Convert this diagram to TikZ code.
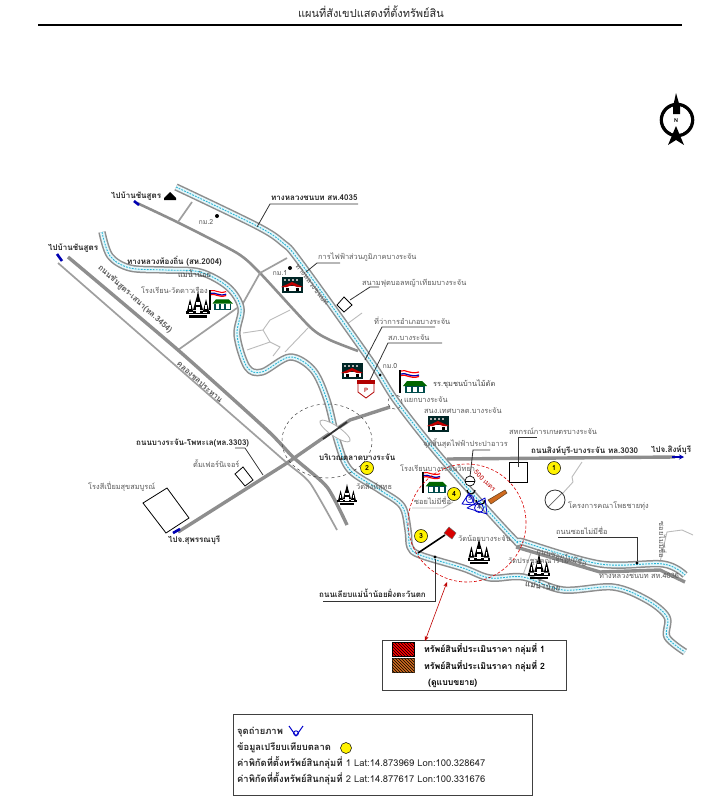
\documentclass[tikz,border=0pt]{standalone}
\usepackage{fontspec}
\setmainfont[Script=Thai]{Loma}
\usetikzlibrary{positioning, arrows.meta, patterns, shapes.geometric}

\definecolor{randgrau}{HTML}{8E8E8E}
\definecolor{wasser}{HTML}{E4F6FA}
\definecolor{wasserlinie}{HTML}{27B5D6}
\definecolor{textgrau}{HTML}{5A5A5A}
\definecolor{parzelleorange}{HTML}{CF6A1E}

\tikzset{
    roadthick/.style={draw=randgrau, line width=3.4pt},
    roadmid/.style={draw=randgrau, line width=2.6pt},
    roadthin/.style={draw=randgrau!85, line width=1.7pt},
    lane/.style={draw=randgrau!60, line width=0.9pt},
    leader/.style={draw=black!80, line width=0.8pt},
    plain/.style={text=textgrau, font=\fontsize{7.4}{8}\selectfont, inner sep=1pt},
    boldlbl/.style={text=black!85, font=\fontsize{8}{9}\selectfont\bfseries, inner sep=1pt},
    lot/.style={draw=black, line width=0.8pt, fill=white},
    marker/.style={circle, draw=black, fill=yellow, line width=0.5pt, minimum size=13pt, inner sep=0pt, font=\fontsize{7}{7}\selectfont\bfseries},
    dotmark/.style={circle, fill=black, inner sep=0pt, minimum size=4pt},
    direction/.style={draw=blue!70!black, line width=2.6pt},
    legendbox/.style={draw=black!75, line width=1pt, fill=white},
    legendlbl/.style={text=black, font=\fontsize{8.7}{9}\selectfont\bfseries, inner sep=1pt},
    legendlow/.style={text=black!85, font=\fontsize{9.4}{10}\selectfont\bfseries, inner sep=1pt},
    temple/.pic={
        \fill[black] (0,-14) -- (1.3,-8) -- (5,5) -- (-5,5) -- (-1.3,-8) -- cycle;
        \fill[black] (-8,-6) -- (-5,6) -- (-11,6) -- cycle;
        \fill[black] (8,-6) -- (11,6) -- (5,6) -- cycle;
        \fill[black] (-12,6) rectangle (12,9);
        \fill[black] (-9,10) rectangle (9,13);
        \fill[white] (-2,-3) rectangle (2,0);
        \fill[white] (-2,2) rectangle (2,7.5);
        \fill[white] (-9,6.8) rectangle (-5,8);
        \fill[white] (5,6.8) rectangle (9,8);
        \fill[white] (-8.8,0) rectangle (-7.2,4);
        \fill[white] (7.2,0) rectangle (8.8,4);
    },
    school/.pic={
        \draw[black, line width=1.1pt] (0,0) -- (0,23);
        \draw[red, line width=1.2pt] (1,1) .. controls (6,-1) and (10,5) .. (19,2);
        \draw[white, line width=1.2pt] (1,2.5) .. controls (6,0.5) and (10,6.5) .. (19,3.5);
        \draw[blue!70!black, line width=1.3pt] (1,4) .. controls (6,2) and (10,8) .. (19,5);
        \draw[red, line width=1.2pt] (1,5.5) .. controls (6,3.5) and (10,9.5) .. (19,6.5);
        \fill[green!40!black] (3,16) -- (7,11) -- (22,11) -- (27,16) -- cycle;
        \fill[teal!60!black] (5,16) rectangle (25,23);
        \fill[white] (7,17) rectangle (11,22);
        \fill[white] (13,17) rectangle (17,22);
        \fill[white] (19,17) rectangle (23,22);
    },
    office/.pic={
        \fill[teal!30!black] (0,0) rectangle (21,16);
        \foreach \i in {1,...,4} {
            \fill[white!70!black] ({\i*4-2},1.5) rectangle ({\i*4},3.5);
        }
        \fill[white] (2,9) rectangle (19,14);
        \fill[red!75!black] (-1,10) -- (10,5) -- (21,10) -- (15,10) -- (10,8) -- (5,10) -- cycle;
        \fill[black] (4,11) rectangle (7,14);
        \fill[black] (14,11) rectangle (17,14);
    },
    viewcone/.pic={
        \draw[blue!80!black, line width=1pt, line join=round] (-7,-5) -- (0,5) -- (7,-5);
        \draw[blue!80!black, line width=0.9pt] (0,2.2) circle (2.4pt);
    }
}

% Fluss oder Kanal: Rand, Wasser, gestrichelte Mittellinie
\newcommand{\wasserlauf}[2][7.4]{
    \draw[randgrau, line width=#1pt, line join=round] plot[smooth, tension=0.55] coordinates {#2};
    \draw[wasser, line width=#1pt-3pt, line join=round] plot[smooth, tension=0.55] coordinates {#2};
    \draw[wasserlinie, line width=0.9pt, dash pattern=on 1.8pt off 1.2pt] plot[smooth, tension=0.55] coordinates {#2};
}

\begin{document}
\begin{tikzpicture}[x=1pt, y=-1pt]
    \useasboundingbox (0,0) rectangle (710,800);
    \fill[white] (0,0) rectangle (710,800);

    % Titel
    \node[font=\fontsize{11}{12}\selectfont, text=black!85, inner sep=0pt] (titel) at (371,12) {แผนที่สังเขปแสดงที่ตั้งทรัพย์สิน};
    \draw[black, line width=1.8pt] (38,25) -- (682,25);

    % Nordpfeil
    \draw[black, line width=3.6pt] (677,120) circle (15.5pt);
    \draw[white, line width=0.8pt] (677,120) circle (13.5pt);
    \fill[black] (676,93) -- (680,107) -- (680,114) -- (673,114) -- (673,107) -- cycle;
    \fill[black] (676,126) -- (684,145) -- (676,140) -- (668,145) -- cycle;
    \node[font=\fontsize{5.5}{6}\selectfont\bfseries, inner sep=0pt] (nord) at (676,121) {N};

    % Straßen
    \draw[roadmid, line join=round] plot[smooth, tension=0.4] coordinates {(137,203) (177,222) (237,253) (260,273) (310,327) (330,340) (358,351)};
    \draw[roadthin] (192,202) -- (178,222);
    \draw[roadthin] (287,258) -- (260,273) -- (242,305);
    \draw[roadthin] (237,308) -- (178,350);
    \draw[roadthick, line join=round] plot[smooth, tension=0.4] coordinates {(68,257) (178,350) (267,430) (293,457) (327,487) (347,525)};
    \draw[roadthin] plot[smooth, tension=0.4] coordinates {(58,263) (247,428) (287,463) (310,483) (337,530)};
    \draw[lane] (243,333) -- (263,330) -- (270,320) -- (290,310);
    \draw[lane] (263,330) -- (270,342) -- (247,350);
    \draw[lane] (270,342) -- (280,347) -- (273,356);
    \draw[lane] (308,328) -- (285,352);
    \draw[lane] (362,313) -- (343,327);
    \draw[lane] (582,462) -- (572,477) -- (573,482) -- (563,493) -- (553,507);
    \draw[lane] (660,562) -- (667,532) -- (682,530) -- (693,535);
    \draw[lane] (532,550) -- (523,575);
    \draw[lane] (412,508) -- (443,508) -- (453,502);
    \draw[roadthick] (178,532) -- (287,463) -- (323,438) -- (350,420) -- (390,407);
    \draw[roadthick] (447,459) -- (675,457);
    \draw[roadthick] (516,547) -- (600,572) -- (660,570) -- (685,582);
    \draw[direction, -{Stealth[length=5pt, width=5pt]}, line width=1.6pt] (672,457) -- (684,457);
    \draw[direction] (180,529) -- (173,533);
    \draw[direction] (139,205) -- (134,201);
    \draw[direction] (62,261) -- (57,254);

    % Wasserläufe
    \wasserlauf{(102,232) (110,256) (130,268) (165,270) (200,272) (228,287) (241,308) (237,335) (247,367) (262,372) (290,357) (313,370) (327,400) (338,443) (350,470) (380,490) (402,506) (408,530) (410,547) (420,555) (463,568) (490,578) (523,577) (563,590) (613,587) (647,600) (667,617) (667,637) (685,652)}
    \wasserlauf{(176,187) (257,226) (283,243) (300,262) (370,360) (397,402) (443,460) (513,538) (523,542) (600,564) (663,564) (685,575)}

    % Markt mit Brücke
    \draw[black!75, line width=0.5pt, dashed] (327,441) ellipse (45pt and 37pt);
    \draw[randgrau!70, fill=white, line width=0.8pt, rotate around={-34:(335,431)}] (335,431) ellipse (18pt and 5pt);
    \draw[black!80, line width=1.8pt] (323,439) -- (347,422);
    \draw[black!70, dashed, line width=0.5pt] (395,402) circle (7pt);

    % Grundstücke
    \draw[lot] (337,305) -- (344,297) -- (352,305) -- (344,312) -- cycle;
    \draw[lot] (235,474) -- (243,467) -- (253,480) -- (245,486) -- cycle;
    \draw[lot] (143,503) -- (167,488) -- (189,518) -- (166,533) -- cycle;
    \draw[lot] (509,462) rectangle (527,482);
    \draw[black!80, line width=0.8pt, fill=white] (555,500) circle (10pt);
    \draw[black!60, line width=0.7pt] (548,507) -- (562,493);

    % Symbole
    \pic at (198,305) {temple};
    \pic[scale=0.85] at (210,290) {school};
    \pic at (282,277) {office};
    \pic at (342,363) {office};
    \pic at (400,370) {school};
    \pic at (428,416) {office};
    \pic[scale=0.9] at (423,472) {school};
    \pic[scale=0.8] at (347,495) {temple};
    \pic[scale=0.95] at (479,552) {temple};
    \pic[scale=0.95] at (539,567) {temple};
    \draw[red!70!black, fill=white, line width=0.8pt] (358,382) -- (374,382) -- (374,392) -- (366,398) -- (358,392) -- cycle;
    \fill[red!70!black] (357,380) rectangle (375,384);
    \node[text=red!70!black, font=\fontsize{6}{7}\selectfont\bfseries, inner sep=0pt] (parken) at (366,390) {P};
    \fill[black] (164,198) -- (170,192) -- (176,198) -- (176,200) -- (164,200) -- cycle;

    % Kilometer
    \node[dotmark] (kmzwei) at (217,216) {};
    \node[dotmark] (kmeins) at (290,268) {};
    \node[dotmark, minimum size=3pt] (kmnull) at (380,375) {};
    \node[dotmark, minimum size=3.4pt] (somend) at (637,563) {};
    \node[dotmark, minimum size=3.4pt] (uferende) at (435,557) {};
    \node[boldlbl, font=\fontsize{7}{8}\selectfont, text=textgrau] (kmzweitext) at (206,222) {กม.2};
    \node[boldlbl, font=\fontsize{7}{8}\selectfont, text=textgrau] (kmeinstext) at (280,273) {กม.1};
    \node[boldlbl, font=\fontsize{7}{8}\selectfont, text=textgrau] (kmnulltext) at (390,366) {กม.0};

    % Richtungen und Straßennamen
    \node[boldlbl, anchor=west] (zielnord) at (110,196) {ไปบ้านชันสูตร};
    \node[boldlbl, anchor=west] (zielwest) at (47,248) {ไปบ้านชันสูตร};
    \node[boldlbl, anchor=west] (zielsued) at (167,540) {ไปจ.สุพรรณบุรี};
    \node[boldlbl, anchor=west] (zielost) at (650,450) {ไปจ.สิงห์บุรี};
    \node[boldlbl, anchor=west] (hw4035) at (270,198) {ทางหลวงชนบท สห.4035};
    \node[boldlbl, anchor=west] (hw2004) at (126,261) {ทางหลวงท้องถิ่น (สห.2004)};
    \node[plain, anchor=west, text=black!75] (fluss) at (177,274) {แม่น้ำน้อย};
    \node[boldlbl, anchor=west] (hw3303) at (135,443) {ถนนบางระจัน-โพทะเล(ทล.3303)};
    \node[boldlbl, anchor=west] (hw3030) at (530,451) {ถนนสิงห์บุรี-บางระจัน ทล.3030};
    \node[boldlbl, anchor=west] (uferweg) at (318,593) {ถนนเลียบแม่น้ำน้อยฝั่งตะวันตก};
    \node[boldlbl, anchor=west] (markt) at (318,457) {บริเวณตลาดบางระจัน};
    \node[boldlbl, rotate=-42, text=textgrau] (hw3454) at (135,299) {ถนนชันสูตร-เสนา(ทล.3454)};
    \node[boldlbl, rotate=-42, text=textgrau] (kanal) at (200,382) {คลองชลประทาน};
    \node[plain, rotate=-52, text=textgrau] (hwtext) at (312,285) {ทางหลวงชนบท};
    \node[plain, rotate=-15, text=textgrau] (sotext) at (562,556) {ถนนซอยไม่มีชื่อ};
    \node[boldlbl, rotate=-8, text=textgrau] (flusstext) at (543,585) {แม่น้ำน้อย};

    % Orte
    \node[plain, anchor=west] (schuledao) at (140,290) {โรงเรียน-วัดดาวเรือง};
    \node[plain, anchor=west] (strom) at (317,257) {การไฟฟ้าส่วนภูมิภาคบางระจัน};
    \node[plain, anchor=west] (sportplatz) at (361,283) {สนามฟุตบอลหญ้าเทียมบางระจัน};
    \node[plain, anchor=west] (amt) at (373,321) {ที่ว่าการอำเภอบางระจัน};
    \node[plain, anchor=west] (polizei) at (387,338) {สภ.บางระจัน};
    \node[plain, anchor=west, text=black!75] (schulemai) at (432,384) {รร.ชุมชนบ้านไม้ดัด};
    \node[plain, anchor=west] (kreuzung) at (403,400) {แยกบางระจัน};
    \node[plain, anchor=west] (gemeinde) at (423,411) {สนง.เทศบาลต.บางระจัน};
    \node[plain, anchor=west] (genossen) at (508,431) {สหกรณ์การเกษตรบางระจัน};
    \node[plain, anchor=west] (strasse) at (422,444) {จุดสิ้นสุดไฟฟ้าประปาอาวร};
    \node[plain, anchor=west] (schulewit) at (399,468) {โรงเรียนบางระจันวิทยา};
    \node[plain, anchor=west] (soi) at (413,501) {ซอยไม่มีชื่อ};
    \node[plain, anchor=west] (moebel) at (192,464) {ตั้มเฟอร์นิเจอร์};
    \node[plain, anchor=west] (muehle) at (87,487) {โรงสีเปี่ยมสุขสมบูรณ์};
    \node[plain, anchor=west] (watsing) at (355,487) {วัดสิงห์สุทธ};
    \node[plain, anchor=west] (projekt) at (567,506) {โครงการคณาโพธชายทุ่ง};
    \node[plain, anchor=west] (somtext) at (555,531) {ถนนซอยไม่มีชื่อ};
    \node[plain, anchor=west] (watnoi) at (457,538) {วัดน้อยบางระจัน};
    \node[plain, anchor=west] (watprachum) at (507,562) {วัดประชุมคณาราม};
    \node[plain, anchor=west] (hw4036) at (598,576) {ทางหลวงชนบท สห.4036};
    \node[plain, rotate=-90, text=textgrau] (soirechts) at (663,540) {ซอยไม่มีชื่อ};

    % Hinweislinien
    \draw[leader] (257,227) -- (270,204) -- (358,204);
    \draw[leader] (306,272) -- (317,263) -- (340,263);
    \draw[leader] (350,300) -- (370,287) -- (379,287);
    \draw[leader] (365,360) -- (382,327) -- (435,327);
    \draw[leader] (370,380) -- (388,343) -- (442,343);
    \draw[leader] (518,467) -- (518,437) -- (537,437);
    \draw[leader] (470,477) -- (473,450) -- (490,450);
    \draw[leader] (558,537) -- (637,537) -- (somend);
    \draw[leader] (235,448) -- (245,448) -- (263,475);
    \draw[leader] (323,601) -- (435,601) -- (uferende);

    % Grundstücke der Bewertung
    \draw[red!85!black, densely dashed, line width=0.6pt] (467,523) circle (59pt);
    \draw[black, line width=1.6pt] (418,553) -- (445,535);
    \draw[black!60, fill=red!85!black, line width=0.4pt] (449,527) -- (456,533) -- (452,539) -- (444,533) -- cycle;
    \draw[black!50!brown, fill=parzelleorange, line width=0.5pt] (488,500) -- (505,490) -- (507,493) -- (491,504) -- cycle;
    \node[text=red!75!black, rotate=-45, font=\fontsize{6.6}{7}\selectfont, inner sep=0pt] (radius) at (485,481) {500 เมตร};
    \draw[black, line width=0.7pt, fill=white] (470,481) circle (5pt);
    \draw[black, line width=0.7pt] (465,481) -- (475,481);
    \draw[black, line width=1.2pt] (467,490) arc (180:360:4pt);
    \draw[black, line width=1.2pt] (476,500) arc (180:360:4.5pt);
    \draw[blue!80!black, line width=0.8pt, line join=round] (462,504) -- (475,505) -- (469,493) -- cycle;
    \draw[blue!80!black, line width=0.8pt] (470,499) circle (4pt);
    \node[text=blue!50!black, font=\fontsize{5.5}{6}\selectfont, inner sep=0pt] (bildfuenf) at (470,499) {5};
    \draw[blue!80!black, line width=0.8pt, line join=round] (467,508) -- (487,514) -- (485,498) -- cycle;
    \draw[blue!80!black, line width=0.8pt] (479,508) circle (4.5pt);
    \node[text=blue!50!black, font=\fontsize{5.5}{6}\selectfont, inner sep=0pt] (bildvier) at (479,508) {4};

    % Vergleichsdaten
    \node[marker] (markereins) at (554,468) {1};
    \node[marker] (markerzwei) at (367,468) {2};
    \node[marker] (markerdrei) at (421,536) {3};
    \node[marker] (markervier) at (454,494) {4};

    % Legende Grundstücke
    \node[legendbox, anchor=north west, minimum width=184pt, minimum height=50pt] (legendeeins) at (382,640) {};
    \coordinate (kreisrand) at (447,582);
    \draw[red!75!black, {Stealth[length=5pt, width=4pt]}-{Stealth[length=5pt, width=4pt]}, line width=0.6pt] (kreisrand) -- (425,641);
    \draw[black, fill=red, postaction={pattern=north west lines}] (392,642) rectangle (414,656);
    \draw[black!60!brown, fill=parzelleorange, postaction={pattern=north west lines}] (392,658) rectangle (414,672);
    \node[legendlbl, anchor=west] (gruppeeins) at (423,649) {ทรัพย์สินที่ประเมินราคา กลุ่มที่ 1};
    \node[legendlbl, anchor=west] (gruppezwei) at (423,666) {ทรัพย์สินที่ประเมินราคา กลุ่มที่ 2};
    \node[legendlbl, anchor=west] (gruppedrei) at (427,683) {(ดูแบบขยาย)};

    % Legende unten
    \node[legendbox, anchor=north west, minimum width=299pt, minimum height=81pt] (legendezwei) at (233,714) {};
    \node[legendlow, anchor=west] (foto) at (236,732) {จุดถ่ายภาพ};
    \pic at (296,731) {viewcone};
    \node[legendlow, anchor=west] (daten) at (236,748) {ข้อมูลเปรียบเทียบตลาด};
    \node[marker, minimum size=11pt] (gelb) at (346,748) {};
    \node[legendlow, anchor=west] (lageeins) at (236,763) {ค่าพิกัดที่ตั้งทรัพย์สินกลุ่มที่ \mdseries 1 Lat:14.873969 Lon:100.328647};
    \node[legendlow, anchor=west] (lagezwei) at (236,779) {ค่าพิกัดที่ตั้งทรัพย์สินกลุ่มที่ \mdseries 2 Lat:14.877617 Lon:100.331676};

\end{tikzpicture}
\end{document}
